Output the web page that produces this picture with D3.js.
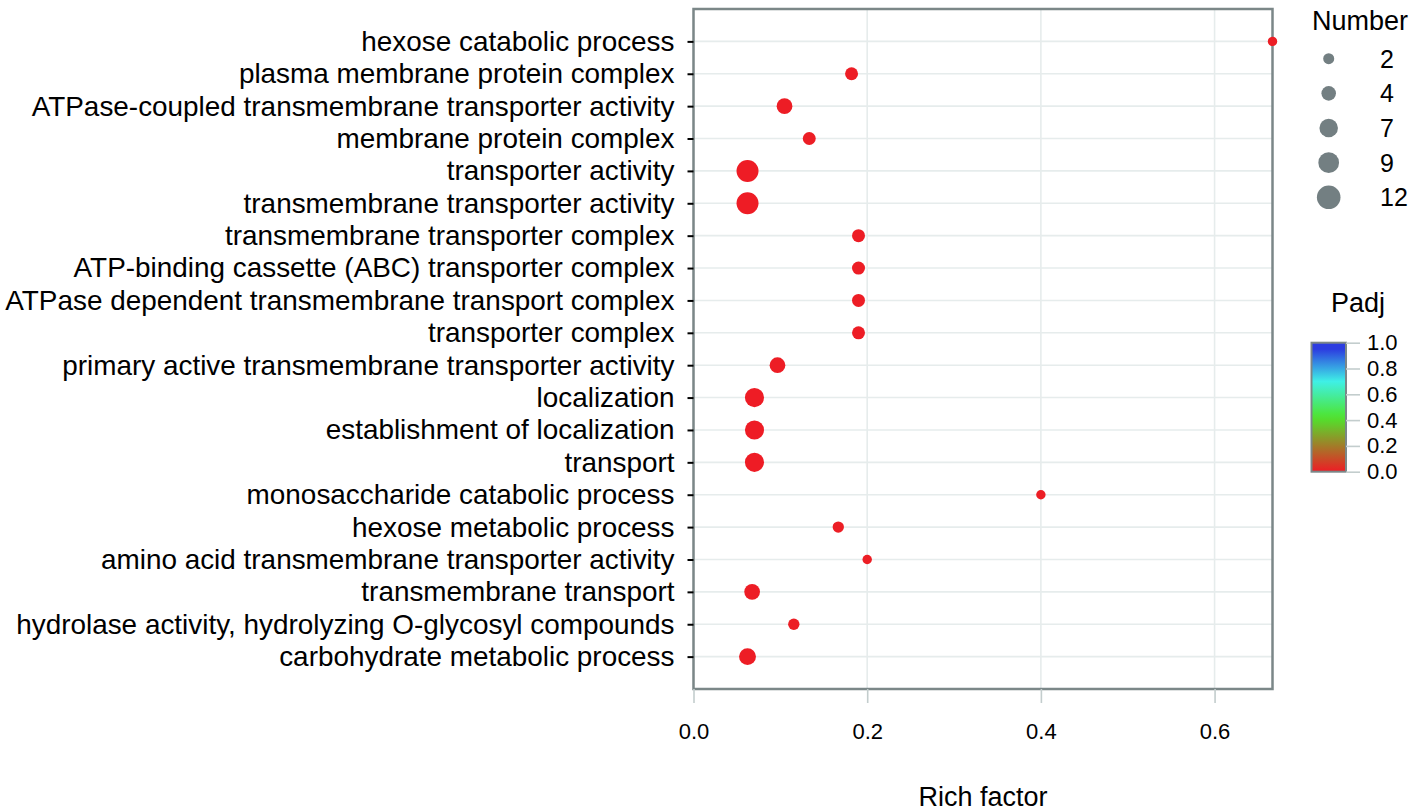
<html>
<head>
    <meta charset="utf-8">
    <script src="https://cdn.jsdelivr.net/npm/d3@7/dist/d3.min.js"></script>
    <style>
        body { margin: 0; background-color: #ffffff; }
        text { font-family: "Liberation Sans", Arial, sans-serif; fill: #000000; }
        .grid line { stroke: #e6ecec; stroke-width: 1.6; }
        .yaxis line { stroke: #000000; stroke-width: 2; }
        .xaxis line, .cbaxis line { stroke: #c3cdcd; stroke-width: 1.6; }
    </style>
    <script>
/* GO terms, top to bottom as in the plot */
var terms = [
    "hexose catabolic process",
    "plasma membrane protein complex",
    "ATPase-coupled transmembrane transporter activity",
    "membrane protein complex",
    "transporter activity",
    "transmembrane transporter activity",
    "transmembrane transporter complex",
    "ATP-binding cassette (ABC) transporter complex",
    "ATPase dependent transmembrane transport complex",
    "transporter complex",
    "primary active transmembrane transporter activity",
    "localization",
    "establishment of localization",
    "transport",
    "monosaccharide catabolic process",
    "hexose metabolic process",
    "amino acid transmembrane transporter activity",
    "transmembrane transport",
    "hydrolase activity, hydrolyzing O-glycosyl compounds",
    "carbohydrate metabolic process"
];
var richFactor = [0.6667, 0.182, 0.1048, 0.1333, 0.0622, 0.0622, 0.19, 0.19, 0.19, 0.19,
                  0.0967, 0.0702, 0.0702, 0.0702, 0.4, 0.1667, 0.2, 0.0675, 0.1155, 0.0622];
var geneNumber = [2, 4, 6, 4, 12, 12, 4, 4, 4, 4, 6, 9, 9, 9, 2, 3, 2, 6, 3, 7];
var padj = [0.004, 0.003, 0.002, 0.004, 0.001, 0.001, 0.003, 0.003, 0.003, 0.003,
            0.002, 0.001, 0.001, 0.001, 0.005, 0.004, 0.005, 0.002, 0.004, 0.002];

var xTicks = [0, 0.2, 0.4, 0.6];
var sizeBreaks = [2, 4, 7, 9, 12];
var padjTicks = [0, 0.2, 0.4, 0.6, 0.8, 1.0];

function load(){

var svg = d3.select("svg");

var panel = {left: 693.5, right: 1272.5, top: 9, bottom: 689};

var x = d3.scaleLinear()
    .domain([0, d3.max(richFactor)])
    .range([panel.left, panel.right]);

var y = d3.scalePoint()
    .domain(terms)
    .range([panel.top, panel.bottom])
    .padding(1);

// point area grows with the gene number
var area = d3.scaleLinear().domain([0, 12]).range([10, 484]);
function radius(n) { return Math.sqrt(area(n)) / 2; }

// Padj colour ramp red -> green -> cyan -> blue
var color = d3.scaleLinear()
    .domain([0, 0.42, 0.7, 0.95, 1])
    .range(["#ee1c25", "#4ee52c", "#3ff0e6", "#2c3de0", "#2c3de0"]);

/* grid */
var grid = svg.append("g").attr("class", "grid");
grid.selectAll("line.v")
    .data(xTicks)
  .enter().append("line")
    .attr("class", "v")
    .attr("x1", function(d) { return x(d); })
    .attr("x2", function(d) { return x(d); })
    .attr("y1", panel.top)
    .attr("y2", panel.bottom);
grid.selectAll("line.h")
    .data(terms)
  .enter().append("line")
    .attr("class", "h")
    .attr("x1", panel.left)
    .attr("x2", panel.right)
    .attr("y1", function(d) { return y(d); })
    .attr("y2", function(d) { return y(d); });

/* panel border */
svg.append("rect")
    .attr("x", panel.left)
    .attr("y", panel.top)
    .attr("width", panel.right - panel.left)
    .attr("height", panel.bottom - panel.top)
    .attr("fill", "none")
    .attr("stroke", "#7b8788")
    .attr("stroke-width", 2.5);

/* axes */
svg.append("g")
    .attr("class", "yaxis")
    .attr("transform", "translate(" + panel.left + ",0)")
    .call(d3.axisLeft(y).tickSize(6).tickPadding(13))
    .call(function(g) { g.select(".domain").remove(); })
    .selectAll("text")
    .style("font-size", "27.9px")
    .attr("fill", "#000000");

svg.append("g")
    .attr("class", "xaxis")
    .attr("transform", "translate(0," + panel.bottom + ")")
    .call(d3.axisBottom(x).tickValues(xTicks).tickSize(14).tickPadding(20)
        .tickFormat(d3.format(".1f")))
    .call(function(g) { g.select(".domain").remove(); })
    .selectAll("text")
    .style("font-size", "22px")
    .attr("fill", "#000000");

svg.append("text")
    .attr("x", (panel.left + panel.right) / 2)
    .attr("y", 806)
    .attr("text-anchor", "middle")
    .style("font-size", "27px")
    .text("Rich factor");

/* points */
svg.append("g")
    .selectAll("circle")
    .data(terms)
  .enter().append("circle")
    .attr("cx", function(d, i) { return x(richFactor[i]); })
    .attr("cy", function(d) { return y(d); })
    .attr("r", function(d, i) { return radius(geneNumber[i]); })
    .attr("fill", function(d, i) { return color(padj[i]); });

/* size legend */
var sl = svg.append("g");
sl.append("text")
    .attr("x", 1312)
    .attr("y", 29.5)
    .style("font-size", "27px")
    .text("Number");
var sy = d3.scalePoint().domain(sizeBreaks).range([58.7, 197.3]);
sl.selectAll("circle")
    .data(sizeBreaks)
  .enter().append("circle")
    .attr("cx", 1328.7)
    .attr("cy", function(d) { return sy(d); })
    .attr("r", function(d) { return radius(d) + 0.8; })
    .attr("fill", "#737f82");
sl.selectAll("text.lab")
    .data(sizeBreaks)
  .enter().append("text")
    .attr("class", "lab")
    .attr("x", 1380)
    .attr("y", function(d) { return sy(d); })
    .attr("dy", "0.36em")
    .style("font-size", "25px")
    .text(function(d) { return d; });

/* colour bar */
var bar = {x: 1311.5, y: 342.7, w: 34.5, h: 129};
var grad = svg.append("defs").append("linearGradient")
    .attr("id", "padjGrad")
    .attr("x1", 0).attr("y1", 1).attr("x2", 0).attr("y2", 0);
grad.selectAll("stop")
    .data(d3.range(0, 1.0001, 0.05))
  .enter().append("stop")
    .attr("offset", function(d) { return d; })
    .attr("stop-color", function(d) { return color(d); });

svg.append("text")
    .attr("x", 1331)
    .attr("y", 312)
    .style("font-size", "27px")
    .text("Padj");

svg.append("rect")
    .attr("x", bar.x)
    .attr("y", bar.y)
    .attr("width", bar.w)
    .attr("height", bar.h)
    .attr("fill", "url(#padjGrad)")
    .attr("stroke", "#7b8788")
    .attr("stroke-width", 2);

var cy = d3.scaleLinear().domain([0, 1]).range([bar.y + bar.h, bar.y]);
svg.append("g")
    .attr("class", "cbaxis")
    .attr("transform", "translate(" + (bar.x + bar.w) + ",0)")
    .call(d3.axisRight(cy).tickValues(padjTicks).tickSize(14).tickPadding(7)
        .tickFormat(d3.format(".1f")))
    .call(function(g) { g.select(".domain").remove(); })
    .selectAll("text")
    .style("font-size", "22px")
    .attr("fill", "#000000");
}
    </script>
</head>
<body onload="load()">
<svg width="1417" height="812"></svg>
</body>
</html>
